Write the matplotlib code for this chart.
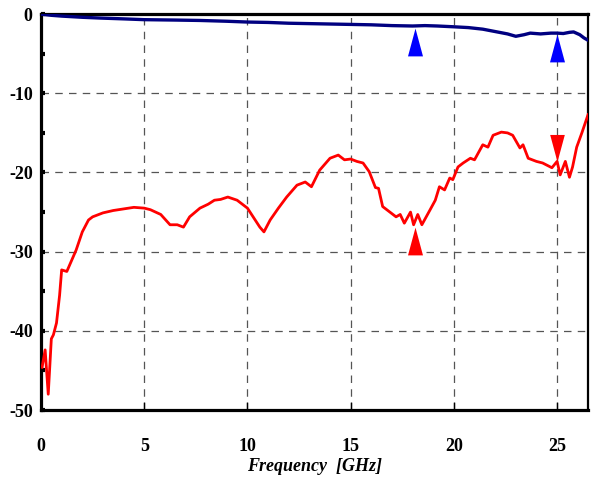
import matplotlib.pyplot as plt

# Données (fréquence en GHz, niveau en dB)
freq_blue = [0, 0.5, 1, 2, 2.9, 4, 5, 6.5, 7.7, 9, 10, 11, 12, 13, 14, 15, 16, 17, 18, 18.6,
             19.2, 20, 20.7, 21.4, 22.2, 22.6, 23, 23.4, 23.7, 24.2, 24.7, 25, 25.3, 25.6,
             25.8, 26.1, 26.3, 26.5]
s_blue = [0, -0.15, -0.25, -0.4, -0.5, -0.6, -0.7, -0.75, -0.8, -0.9, -1.0, -1.05, -1.15, -1.2,
          -1.25, -1.3, -1.35, -1.45, -1.5, -1.45, -1.5, -1.6, -1.7, -1.9, -2.3, -2.5, -2.8,
          -2.6, -2.4, -2.5, -2.4, -2.4, -2.45, -2.3, -2.25, -2.6, -3.0, -3.3]

freq_red = [0.05, 0.2, 0.35, 0.5, 0.6, 0.75, 0.9, 1.0, 1.25, 1.5, 1.7, 2.0, 2.3, 2.5, 3.0,
            3.5, 4.0, 4.5, 5.0, 5.3, 5.8, 6.25, 6.6, 6.9, 7.2, 7.7, 8.1, 8.4, 8.7, 9.05,
            9.5, 10.0, 10.3, 10.6, 10.8, 11.1, 11.5, 11.9, 12.4, 12.8, 13.1, 13.5, 14.0,
            14.4, 14.7, 15.0, 15.3, 15.6, 15.9, 16.2, 16.35, 16.55, 16.9, 17.2, 17.4, 17.6,
            17.9, 18.05, 18.25, 18.45, 18.85, 19.1, 19.3, 19.55, 19.8, 19.95, 20.2, 20.45,
            20.8, 21.0, 21.4, 21.65, 21.9, 22.3, 22.6, 22.85, 23.2, 23.35, 23.6, 24.0, 24.3,
            24.75, 25.0, 25.15, 25.4, 25.6, 25.75, 25.95, 26.2, 26.5]
s_red = [-44.6, -42.4, -48.0, -41.0, -40.5, -39.0, -35.5, -32.3, -32.5, -31.0, -29.8, -27.5,
         -26.0, -25.6, -25.1, -24.8, -24.6, -24.4, -24.5, -24.7, -25.3, -26.6, -26.6, -26.9,
         -25.6, -24.5, -24.0, -23.5, -23.4, -23.1, -23.5, -24.5, -25.7, -26.9, -27.5, -26.0,
         -24.5, -23.1, -21.6, -21.2, -21.8, -19.7, -18.2, -17.8, -18.4, -18.3, -18.6, -18.8,
         -19.9, -21.9, -22.0, -24.3, -25.0, -25.6, -25.3, -26.4, -25.0, -26.6, -25.3, -26.6,
         -24.7, -23.5, -21.8, -22.2, -20.7, -20.9, -19.3, -18.8, -18.2, -18.4, -16.5, -16.8,
         -15.3, -14.9, -15.0, -15.3, -16.9, -16.5, -18.2, -18.6, -18.8, -19.4, -18.6, -20.3,
         -18.6, -20.6, -19.3, -16.8, -15.0, -12.7]

# Marqueurs triangulaires
mk_blue_x = [18.1, 25.0]
mk_blue_y = [-3.5, -4.3]
mk_red_up_x = [18.1]
mk_red_up_y = [-28.6]
mk_red_down_x = [25.0]
mk_red_down_y = [-16.9]

x_ticks = [0, 5, 10, 15, 20, 25]
y_ticks = [0, -10, -20, -30, -40, -50]

tri_up = [(-0.54, -1), (0.54, -1), (0, 1), (-0.54, -1)]
tri_down = [(-0.54, 1), (0.54, 1), (0, -1), (-0.54, 1)]

plt.rcParams['font.family'] = ['Liberation Serif', 'DejaVu Serif']
plt.rcParams['font.weight'] = 'bold'
plt.rcParams['axes.unicode_minus'] = False

fig = plt.figure(figsize=(5.91, 4.87), dpi=100)
ax = fig.add_axes([0.0694, 0.158, 0.9256, 0.813])

ax.plot(freq_red, s_red, color='#ff0000', lw=2.0, zorder=3)
ax.plot(freq_blue, s_blue, color='#000080', lw=2.4, zorder=3)

ax.plot(mk_blue_x, mk_blue_y, ls='none', marker=tri_up, ms=20, color='#0000ff', mew=0, zorder=4)
ax.plot(mk_red_up_x, mk_red_up_y, ls='none', marker=tri_up, ms=20, color='#ff0000', mew=0, zorder=4)
ax.plot(mk_red_down_x, mk_red_down_y, ls='none', marker=tri_down, ms=19.5, color='#ff0000', mew=0, zorder=4)

ax.set_xlim(0, 26.5)
ax.set_ylim(-50, 0)
ax.set_xticks(x_ticks)
ax.set_yticks(y_ticks)
ax.set_yticks([-5, -15, -25, -35, -45], minor=True)

ax.grid(True, which='major', ls=(0, (6, 5)), color='#555555', lw=0.9)

for side in ['left', 'bottom', 'top']:
    ax.spines[side].set_linewidth(2.3)
ax.spines['right'].set_linewidth(1.6)

ax.tick_params(axis='x', direction='in', length=6, width=1, pad=20, labelsize=13)
ax.tick_params(axis='y', direction='in', length=3, width=3, pad=6, labelsize=13)
ax.tick_params(axis='y', which='minor', direction='in', length=3, width=3)

ax.set_xlabel('Frequency  [GHz]', fontsize=13, style='italic', fontweight='bold', labelpad=2)

fig.savefig('out.png', dpi=100)
